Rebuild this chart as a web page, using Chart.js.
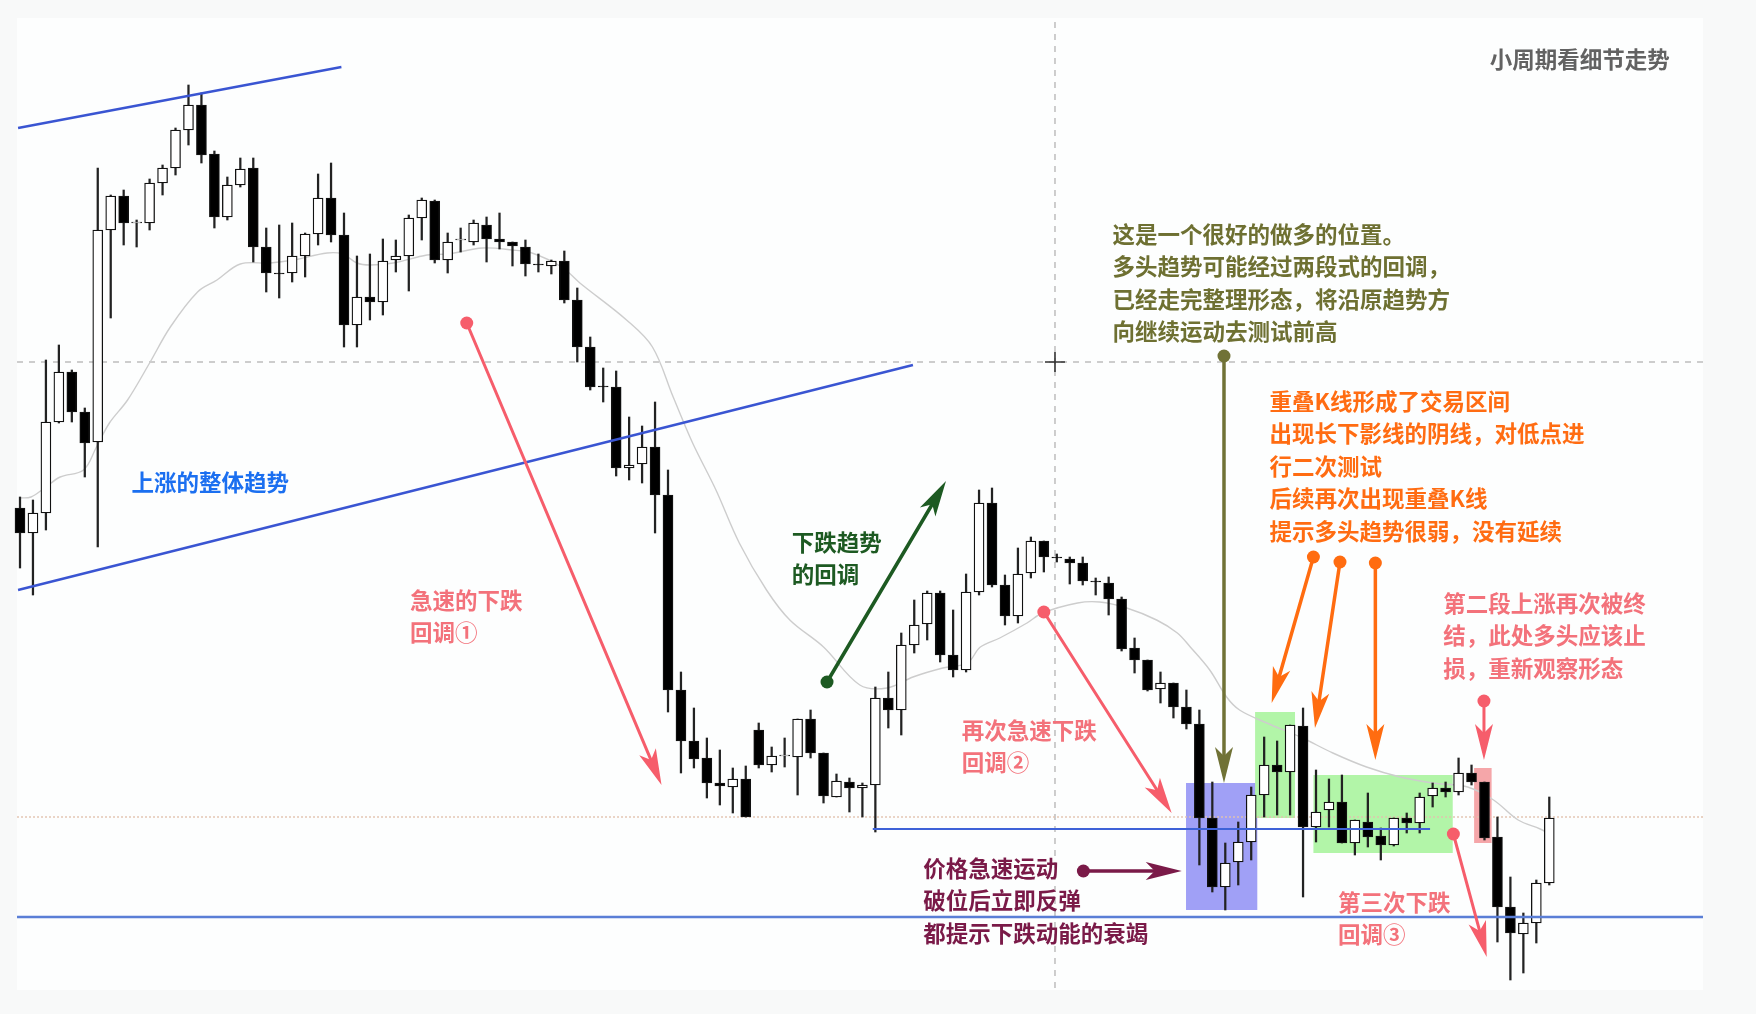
<!DOCTYPE html>
<html>
<head>
<meta charset="utf-8">
<script src="https://cdn.jsdelivr.net/npm/chart.js@4.4.1/dist/chart.umd.min.js"></script>
<style>
  html, body { margin: 0; padding: 0; background: #f8f9f9; }
  #wrap { width: 1756px; height: 1014px; }
</style>
</head>
<body>
<div id="wrap"><canvas id="kline" width="1756" height="1014"></canvas></div>
<script>
// candle index 0..118, price in chart points
const opens  = [506,481,501,592,642,602,572,784,818,791,791,831,846,884,909,860,797,829,846,767,
                741,741,758,780,816,779,689,717,712,754,758,796,813,754,774,772,789,775,772,767,
                750,748,753,714,667,628,627,546,550,567,519,324,273,256,231,227,235,284,249,258,
                257,295,261,217,232,226,229,316,304,369,390,421,359,344,422,511,429,398,441,473,
                457,455,451,433,431,415,366,354,325,331,307,290,196,127,152,172,219,249,242,288,
                187,204,212,171,192,178,169,196,191,218,226,222,241,232,177,107,80,91,131];
const highs  = [517,514,654,669,644,606,846,819,824,794,835,849,886,929,921,863,837,856,856,786,
                789,791,781,840,851,801,758,760,775,774,799,816,814,781,786,794,797,801,772,774,
                760,754,763,726,677,646,643,597,588,612,544,342,306,276,264,246,248,291,267,276,
                295,304,261,240,236,231,327,342,381,414,423,423,404,440,524,526,439,466,477,473,
                460,457,457,436,437,417,376,354,342,331,324,304,232,171,192,227,277,273,289,306,
                244,235,239,194,221,186,196,201,221,231,232,256,249,232,197,137,101,134,217];
const lows   = [446,419,484,591,592,537,467,696,769,767,784,819,839,869,851,786,794,827,752,722,
                716,732,737,769,772,667,667,694,699,742,723,774,751,741,762,769,752,765,748,738,
                742,740,711,652,624,612,538,534,531,481,302,241,246,216,209,201,197,246,242,247,
                219,256,211,217,202,197,182,286,279,361,374,352,337,342,419,427,389,391,436,442,
                452,430,429,419,399,363,341,323,311,296,285,149,122,104,129,154,197,199,199,117,
                172,187,171,159,167,154,168,181,181,207,217,219,229,174,72,34,41,71,129];
const closes = [481,501,592,642,602,571,784,818,791,792,831,846,884,909,859,797,829,845,767,741,
                740,758,780,816,779,689,717,712,753,758,796,814,754,772,775,791,775,772,768,750,
                749,753,714,667,627,627,546,549,567,519,324,273,255,231,228,235,197,249,258,259,
                295,261,218,233,226,229,316,304,369,389,421,359,344,422,511,429,398,440,473,457,
                456,451,433,432,415,365,354,324,331,307,290,196,127,151,172,219,249,242,289,187,
                202,212,171,194,177,169,196,191,217,226,222,241,232,176,107,81,91,131,196];

// thin grey moving average, sampled along the curve (candle index, price)
const maIdx = [0,0.85,1.9,3.1,4.9,5.9,6.9,8.3,10.0,11.6,13.7,15.2,17.0,19.3,21.1,23.7,24.9,26.0,27.0,28.8,
               31.4,33.0,35.7,38.0,39.5,41.8,43.2,46.8,48.8,50.4,51.9,53.7,55.5,57.6,59.4,62.0,64.8,66.9,68.9,71.2,
               73.1,74.1,75.6,77.7,78.9,81.6,83.3,85.4,87.7,89.3,90.3,91.8,93.1,94.1,96.2,98.8,101.3,103.9,106.5,109.0,
               111.7,113.7,115.6,117.3,118];
const maVal = [516,517,526,537,544,567,591,614,651,687,722,734,750,751,754,761,760,751,749,751,
               759,760,766,764,761,747,731,694,667,617,571,524,471,424,394,367,329,326,337,346,
               351,367,376,391,401,411,412,406,394,381,367,344,317,304,291,277,261,247,237,231,
               227,214,194,185,180];

// straight drawn lines: [index, price] end points
const upperTrend = [[-0.15, 886], [24.8, 947]];
const lowerTrend = [[-0.15, 424], [68.9, 649]];
const greyLevel = 652;
const tanLevel = 197;
const blueShort = {from: 65.8, to: 108.8, price: 185};
const blueLong = 97;
const cursorIdx = 79.86;

const bodies = opens.map((o, i) => ({x: i, y: [o, closes[i]]}));
const wicks = opens.map((o, i) => ({x: i, y: [lows[i], highs[i]]}));
const bodyColors = opens.map((o, i) => closes[i] >= o ? '#ffffff' : '#000000');
const maPoints = maIdx.map((x, i) => ({x: x, y: maVal[i]}));

const boxes = [
  {x1: 89.97, x2: 95.47, y1: 231, y2: 104, color: '#a0a0f6'},
  {x1: 95.3, x2: 98.38, y1: 302, y2: 196, color: '#b2f5a8'},
  {x1: 99.8, x2: 110.55, y1: 239, y2: 161, color: '#b2f5a8'},
  {x1: 112.2, x2: 113.55, y1: 246, y2: 171, color: '#f5a6a9'}
];

const arrows = [
  {from: [34.47, 691], to: [49.5, 229], color: '#f65d6b', w: 3},
  {from: [79.0, 402], to: [88.86, 201], color: '#f65d6b', w: 3},
  {from: [110.6, 180], to: [113.17, 57], color: '#f65d6b', w: 3},
  {from: [112.96, 313], to: [112.96, 254], color: '#f65d6b', w: 3},
  {from: [62.27, 332], to: [71.45, 533], color: '#1d5a22', w: 3.5},
  {from: [82.05, 143], to: [89.64, 143], color: '#7a1a48', w: 3.5},
  {from: [92.9, 658], to: [92.9, 231], color: '#707236', w: 3.5},
  {from: [99.8, 457], to: [96.58, 311], color: '#ff6c10', w: 3.5},
  {from: [101.85, 452], to: [99.92, 286], color: '#ff6c10', w: 3.5},
  {from: [104.58, 451], to: [104.58, 254], color: '#ff6c10', w: 3.5}
];

const notes = [
  {x: 113.4, y: 955, color: '#626262', lines: ['小周期看细节走势']},
  {x: 8.6, y: 532, color: '#1b6ff0', lines: ['上涨的整体趋势']},
  {x: 30.09, y: 414, color: '#f3727b', lines: ['急速的下跌', '回调①']},
  {x: 59.54, y: 472, color: '#1d5a22', lines: ['下跌趋势', '的回调']},
  {x: 72.66, y: 284, color: '#f3727b', lines: ['再次急速下跌', '回调②']},
  {x: 69.7, y: 146, color: '#7a1a48', lines: ['价格急速运动', '破位后立即反弹', '都提示下跌动能的衰竭']},
  {x: 101.7, y: 112, color: '#f3727b', lines: ['第三次下跌', '回调③']},
  {x: 84.3, y: 780, color: '#6e7032', lines: ['这是一个很好的做多的位置。', '多头趋势可能经过两段式的回调，', '已经走完整理形态，将沿原趋势方', '向继续运动去测试前高']},
  {x: 96.41, y: 613, color: '#ff6c12', lines: ['重叠K线形成了交易区间', '出现长下影线的阴线，对低点进', '行二次测试', '后续再次出现重叠K线', '提示多头趋势很弱，没有延续']},
  {x: 109.82, y: 411, color: '#f3727b', lines: ['第二段上涨再次被终', '结，此处多头应该止', '损，重新观察形态']}
];

function drawArrow(ctx, x1, y1, x2, y2, color, w) {
  const ang = Math.atan2(y2 - y1, x2 - x1);
  const L = 36, W = 9, N = 27;
  ctx.strokeStyle = color;
  ctx.fillStyle = color;
  ctx.lineWidth = w;
  ctx.lineCap = 'round';
  ctx.beginPath();
  ctx.moveTo(x1, y1);
  ctx.lineTo(x2 - Math.cos(ang) * N, y2 - Math.sin(ang) * N);
  ctx.stroke();
  ctx.beginPath();
  ctx.arc(x1, y1, 6.5, 0, Math.PI * 2);
  ctx.fill();
  ctx.save();
  ctx.translate(x2, y2);
  ctx.rotate(ang);
  ctx.beginPath();
  ctx.moveTo(0, 0);
  ctx.lineTo(-L, -W);
  ctx.lineTo(-N, 0);
  ctx.lineTo(-L, W);
  ctx.closePath();
  ctx.fill();
  ctx.restore();
}

const overlay = {
  id: 'overlay',
  beforeDraw(chart) {
    const {ctx, scales: {x, y}} = chart;
    ctx.save();
    ctx.fillStyle = '#f8f9f9';
    ctx.fillRect(0, 0, chart.width, chart.height);
    const l = x.getPixelForValue(-0.23), r = x.getPixelForValue(129.86);
    const t = y.getPixelForValue(996), b = y.getPixelForValue(24);
    ctx.fillStyle = '#fdfefe';
    ctx.fillRect(l, t, r - l, b - t);
    ctx.restore();
  },
  beforeDatasetsDraw(chart) {
    const {ctx, scales: {x, y}} = chart;
    ctx.save();
    boxes.forEach(bx => {
      const l = x.getPixelForValue(bx.x1), r = x.getPixelForValue(bx.x2);
      const t = y.getPixelForValue(bx.y1), b = y.getPixelForValue(bx.y2);
      ctx.fillStyle = bx.color;
      ctx.fillRect(l, t, r - l, b - t);
    });
    ctx.restore();
  },
  afterDatasetsDraw(chart) {
    const {ctx, scales: {x, y}} = chart;
    ctx.save();
    arrows.forEach(a => {
      drawArrow(ctx, x.getPixelForValue(a.from[0]), y.getPixelForValue(a.from[1]),
        x.getPixelForValue(a.to[0]), y.getPixelForValue(a.to[1]), a.color, a.w);
    });
    // cursor cross
    const cx = x.getPixelForValue(cursorIdx), cy = y.getPixelForValue(greyLevel);
    ctx.strokeStyle = '#333';
    ctx.lineWidth = 1.6;
    ctx.lineCap = 'butt';
    ctx.beginPath();
    ctx.moveTo(cx - 10, cy); ctx.lineTo(cx + 10, cy);
    ctx.moveTo(cx, cy - 10); ctx.lineTo(cx, cy + 10);
    ctx.stroke();
    // notes
    ctx.font = 'bold 22.5px "Noto Sans CJK SC", sans-serif';
    ctx.textBaseline = 'middle';
    ctx.textAlign = 'left';
    notes.forEach(n => {
      ctx.fillStyle = n.color;
      const px = x.getPixelForValue(n.x), py = y.getPixelForValue(n.y);
      n.lines.forEach((s, k) => ctx.fillText(s, px, py + k * 32.5));
    });
    ctx.restore();
  }
};

const lineDs = (pts, color, width, dash, order) => ({
  type: 'line',
  data: pts.map(p => ({x: p[0], y: p[1]})),
  borderColor: color,
  borderWidth: width,
  borderDash: dash,
  pointRadius: 0,
  fill: false,
  order: order
});

const config = {
  type: 'bar',
  data: {
    datasets: [
      lineDs(upperTrend, '#3a55d2', 2.4, [], -2),
      lineDs(lowerTrend, '#3a55d2', 2.4, [], -2),
      lineDs([[blueShort.from, blueShort.price], [blueShort.to, blueShort.price]], '#3e62d8', 2, [], -2),
      lineDs([[-0.23, blueLong], [129.86, blueLong]], '#5a7ed6', 2.4, [], -2),
      {
        type: 'bar',
        data: bodies,
        grouped: false,
        barThickness: 10,
        backgroundColor: bodyColors,
        borderColor: '#111111',
        borderWidth: 1.3,
        borderSkipped: false,
        order: 0
      },
      {
        type: 'bar',
        data: wicks,
        grouped: false,
        barThickness: 1.6,
        backgroundColor: '#222222',
        borderWidth: 0,
        order: 1
      },
      {
        type: 'line',
        data: maPoints,
        borderColor: '#cdcdcd',
        borderWidth: 1.4,
        pointRadius: 0,
        tension: 0.35,
        fill: false,
        order: 2
      },
      lineDs([[-0.23, greyLevel], [129.86, greyLevel]], '#b8b8b8', 1.4, [6, 6], 3),
      lineDs([[-0.23, tanLevel], [129.86, tanLevel]], '#e2c2ae', 1.4, [2, 2], 3),
      lineDs([[cursorIdx, 992], [cursorIdx, 24]], '#b8b8b8', 1.4, [6, 6], 3)
    ]
  },
  options: {
    responsive: false,
    animation: false,
    devicePixelRatio: 1,
    layout: {padding: 0},
    plugins: {
      legend: {display: false},
      tooltip: {enabled: false}
    },
    scales: {
      x: {type: 'linear', min: -1.543, max: 133.95, offset: false, display: false},
      y: {type: 'linear', min: 0, max: 1014, display: false}
    }
  },
  plugins: [overlay]
};

new Chart(document.getElementById('kline'), config);
</script>
</body>
</html>
